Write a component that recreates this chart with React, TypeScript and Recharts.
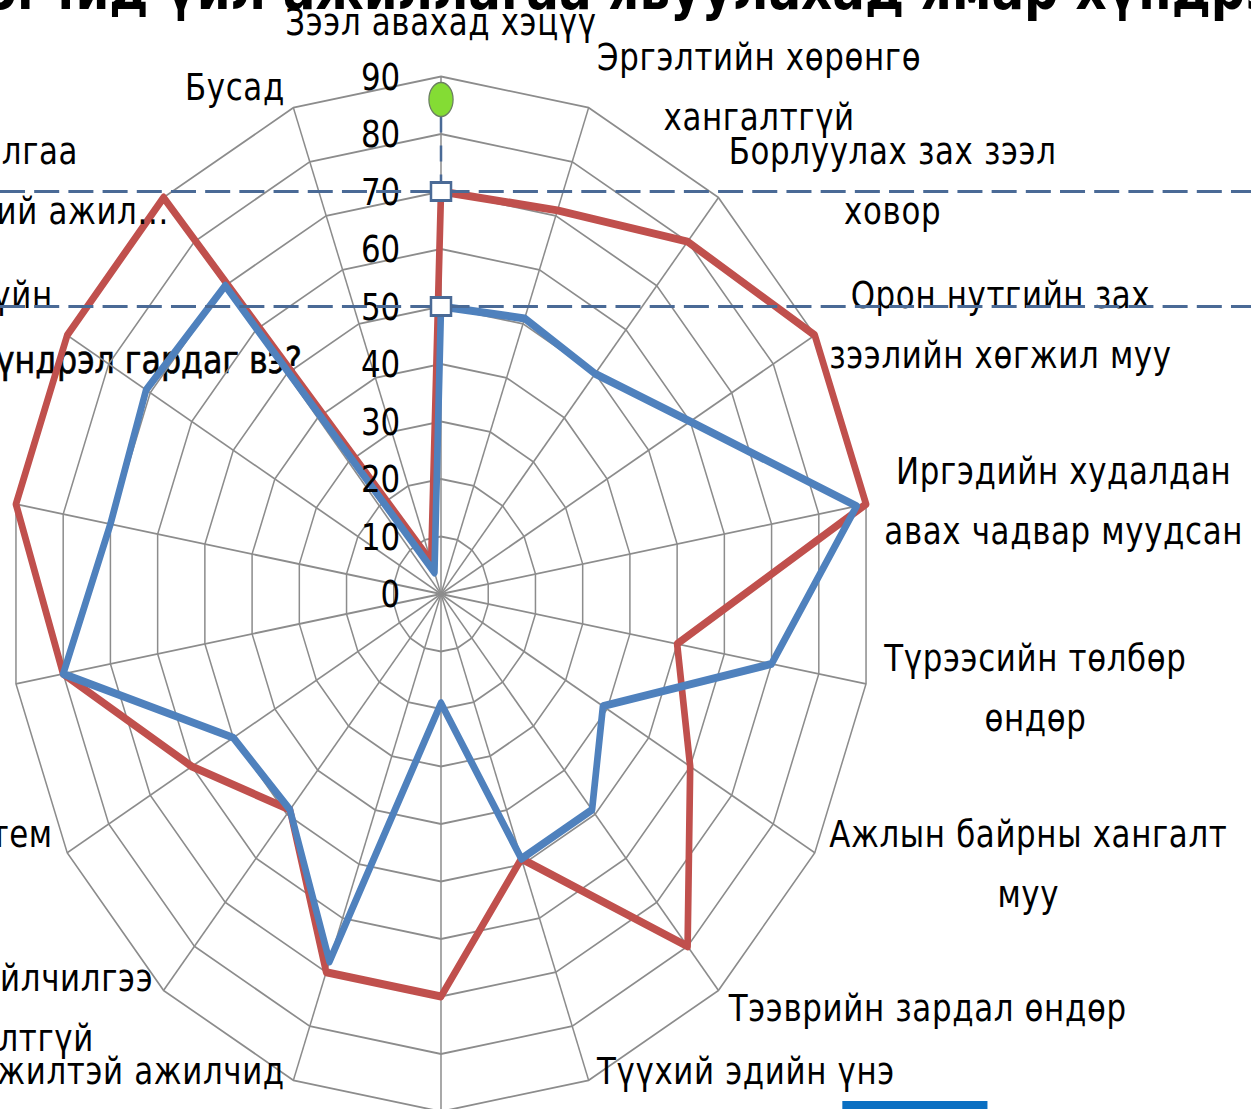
import React from 'react';
import { RadarChart, Radar, PolarGrid, PolarAngleAxis, PolarRadiusAxis } from 'recharts';

// ---------- data ----------
const categories: string[] = [
  'Зээл авахад хэцүү',
  'Эргэлтийн хөрөнгө\nхангалтгүй',
  'Борлуулах зах зээл\nховор',
  'Орон нутгийн зах\nзээлийн хөгжил муу',
  'Иргэдийн худалдан\nавах чадвар муудсан',
  'Түрээсийн төлбөр\nөндөр',
  'Ажлын байрны хангалт\nмуу',
  'Тээврийн зардал өндөр',
  'Түүхий эдийн үнэ\nөндөр',
  'Татварын дарамт\nих',
  'Мэргэжилтэй ажилчид\nдутмаг',
  'Банкны үйлчилгээ\nхангалтгүй',
  'Татварын систем\nтогтворгүй',
  'Тоног төхөөрөмж\nхуучирсан',
  'Гадаадын бараатай\nөрсөлдөх',
  'Хууль эрх зүйн\nорчин',
  'Зар сурталчилгаа\nмаркетингийн хүний ажил...',
  'Бусад',
];

const redValues: number[] = [70, 71, 80, 90, 90, 50, 60, 80, 49, 70, 70, 49, 60, 80, 90, 90, 90, 6];
const blueValues: number[] = [50, 51, 50, 60, 88, 70, 39, 49, 49, 19, 68, 49, 50, 80, 70, 71, 70, 4];
const markerValue = 86;
const radiusTicks: number[] = [0, 10, 20, 30, 40, 50, 60, 70, 80, 90];

const data = categories.map((label, i) => ({ label, red: redValues[i], blue: blueValues[i] }));

// ---------- layout ----------
const SX = 0.834;
const W_U = 1500;
const H_U = 1300;
const CX = 441 / SX;
const CY = 594;
const R = 517.5;
const FS = 37;
const LS = 0.8;
const LINE_H = 60;
const FONT = '"DejaVu Sans", sans-serif';
const DASH_COLOR = '#4a6a96';

let ctx: CanvasRenderingContext2D | null = null;
function measure(text: string): number {
  if (!ctx) ctx = document.createElement('canvas').getContext('2d');
  if (!ctx) return text.length * FS * 0.6;
  ctx.font = `${FS}px "DejaVu Sans"`;
  return ctx.measureText(text).width + LS * text.length;
}

function AngleTick(props: any) {
  const { x, y, payload, index } = props;
  const theta = (((90 - payload.coordinate) % 360) + 360) % 360;
  const rad = (theta * Math.PI) / 180;
  const sn = Math.sin(rad);
  const cs = Math.cos(rad);
  const lines = String(payload.value).split('\n');
  const W = Math.max(...lines.map(measure));
  const gapScreen = sn < 0 && cs > 0.6 && cs < 0.9 ? -6 : 8 + 10 * Math.pow(Math.abs(sn), 4);
  const gapU = gapScreen / SX;
  let centerX = x;
  if (sn > 0.1) centerX = x + gapU + W / 2;
  else if (sn < -0.1) centerX = x - gapU - W / 2;
  const H = LINE_H * lines.length;
  let centerY: number;
  if (Math.abs(sn) <= 0.1) centerY = cs > 0 ? y - 24 - H / 2 : y + 24 + H / 2;
  else centerY = y - cs * 21;
  const n = lines.length;
  return (
    <g key={`at-${index}`}>
      {lines.map((l, i) => (
        <text
          key={i}
          x={centerX}
          y={centerY + (i - (n - 1) / 2) * LINE_H + 0.36 * FS}
          textAnchor="middle"
          fontFamily={FONT}
          fontSize={FS}
          letterSpacing={LS}
          fill="#000"
        >
          {l}
        </text>
      ))}
    </g>
  );
}

function RadiusTick(props: any) {
  const { x, y, payload, index } = props;
  return (
    <text
      key={`rt-${index}`}
      x={x - 49}
      y={y + 0.36 * FS}
      textAnchor="end"
      fontFamily={FONT}
      fontSize={FS}
      fill="#000"
    >
      {payload.value}
    </text>
  );
}

function pointScale(p: any) {
  const pt = p || {};
  const k = pt.radius && pt.value ? pt.radius / pt.value : R / 90;
  const ang = typeof pt.angle === 'number' ? pt.angle : 90;
  const pcx = typeof pt.cx === 'number' ? pt.cx : CX;
  const pcy = typeof pt.cy === 'number' ? pt.cy : CY;
  return { k, ang: (ang * Math.PI) / 180, pcx, pcy };
}

function Square({ cx, cy }: { cx: number; cy: number }) {
  return <rect x={cx - 12} y={cy - 9} width={24} height={18} fill="#fff" stroke={DASH_COLOR} strokeWidth={3} />;
}

function RedDot(props: any) {
  const { cx, cy, index, payload } = props;
  if (index !== 0) return <g key={`rd-${index}`} />;
  const { k, ang, pcx, pcy } = pointScale(payload);
  const gx = pcx + markerValue * k * Math.cos(ang);
  const gy = pcy - markerValue * k * Math.sin(ang);
  return (
    <g key={`rd-${index}`}>
      <line x1={0} x2={W_U} y1={cy} y2={cy} stroke={DASH_COLOR} strokeWidth={3} strokeDasharray="30 11" />
      <line x1={gx} x2={cx} y1={gy + 17} y2={cy} stroke={DASH_COLOR} strokeWidth={3} strokeDasharray="16 13" />
      <ellipse cx={gx} cy={gy} rx={14.5} ry={17} fill="#84dc34" stroke="#6b7f62" strokeWidth={1.5} />
      <Square cx={cx} cy={cy} />
    </g>
  );
}

function BlueDot(props: any) {
  const { cx, cy, index } = props;
  if (index !== 0) return <g key={`bd-${index}`} />;
  return (
    <g key={`bd-${index}`}>
      <line x1={0} x2={W_U} y1={cy} y2={cy} stroke={DASH_COLOR} strokeWidth={3} strokeDasharray="30 11" />
      <Square cx={cx} cy={cy} />
    </g>
  );
}

export default function App() {
  return (
    <div style={{ position: 'absolute', left: 0, top: 0, width: 1251, height: 1109, overflow: 'hidden', background: '#fff' }}>
      <div style={{ position: 'absolute', left: 0, top: 0, width: W_U, height: H_U, transform: `scaleX(${SX})`, transformOrigin: '0 0' }}>
        <svg width={W_U} height={H_U} style={{ position: 'absolute', left: 0, top: 0 }}>
          <text x={760} y={9} textAnchor="middle" fontFamily={FONT} fontWeight="bold" fontSize={58} fill="#000">
            Бизнес эрхлэгчид үйл ажиллагаа явуулахад ямар хүндрэл гардаг вэ?
          </text>
          <text x={362} y={373} textAnchor="end" fontFamily={FONT} fontSize={38} fill="#000" stroke="#000" strokeWidth={0.7}>
            ямар хүндрэл гардаг вэ?
          </text>
          <rect x={1010} y={1101} width={174} height={10} fill="#0a6fc2" />
        </svg>
        <div style={{ position: 'absolute', left: 0, top: 0 }}>
          <RadarChart
            width={W_U}
            height={H_U}
            cx={CX}
            cy={CY}
            outerRadius={R}
            data={data}
            startAngle={90}
            endAngle={-270}
            margin={{ top: 0, right: 0, bottom: 0, left: 0 }}
          >
            <PolarGrid gridType="polygon" stroke="#8c8c8c" strokeWidth={1.8} />
            <PolarAngleAxis dataKey="label" tick={AngleTick} tickLine={false} axisLine={false} tickSize={1} />
            <PolarRadiusAxis
              angle={90}
              domain={[0, 90]}
              ticks={radiusTicks as any}
              tickCount={10}
              tick={RadiusTick}
              axisLine={false}
              tickLine={false}
              type="number"
            />
            <Radar
              dataKey="red"
              stroke="#c0504d"
              strokeWidth={8}
              strokeLinejoin="round"
              fill="none"
              dot={RedDot}
              isAnimationActive={false}
            />
            <Radar
              dataKey="blue"
              stroke="#4f81bd"
              strokeWidth={8}
              strokeLinejoin="round"
              fill="none"
              dot={BlueDot}
              isAnimationActive={false}
            />
          </RadarChart>
        </div>
      </div>
    </div>
  );
}
